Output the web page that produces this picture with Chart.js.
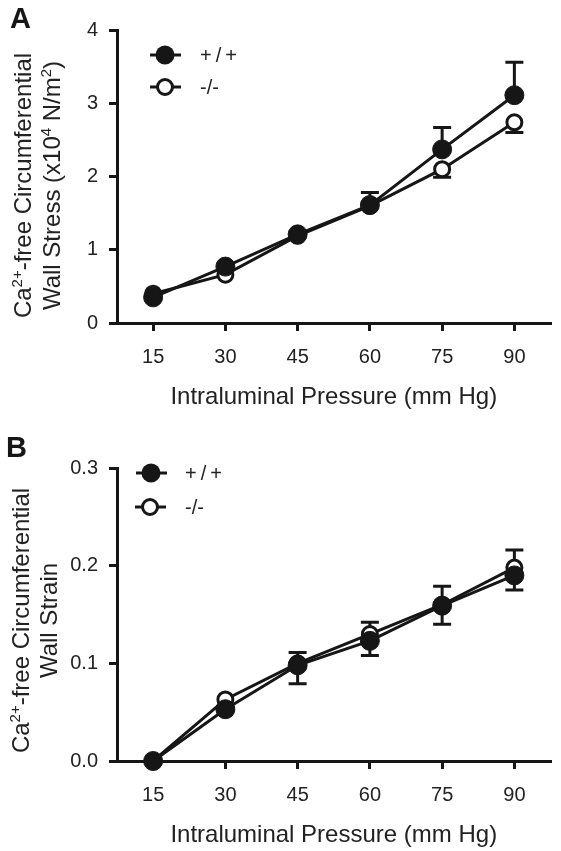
<!DOCTYPE html>
<html>
<head>
<meta charset="utf-8">
<script src="https://cdn.jsdelivr.net/npm/chart.js@4.4.1/dist/chart.umd.min.js"></script>
<style>
  html, body { margin: 0; padding: 0; background: #fff; }
  #wrap { position: relative; width: 561px; height: 851px; }
  canvas { position: absolute; left: 0; }
  .panel { position: absolute; font: bold 29px "Liberation Sans", Arial, sans-serif; line-height: 1; color: #161616; }
</style>
</head>
<body>
<div id="wrap">
  <canvas id="chartA" width="561" height="420" style="top:0"></canvas>
  <canvas id="chartB" width="561" height="431" style="top:420px"></canvas>
  <div class="panel" style="left:10px; top:4px">A</div>
  <div class="panel" style="left:6px; top:433px">B</div>
</div>
<script>
const pressure = [15, 30, 45, 60, 75, 90];
const xTicks = [15, 30, 45, 60, 75, 90];

// Panel A: Ca-free circumferential wall stress (x10^4 N/m2)
const stressWT = [0.35, 0.77, 1.21, 1.61, 2.37, 3.11];
const stressWTErr = [0, 0, 0, 0.17, 0.30, 0.45];
const stressKO = [0.40, 0.66, 1.19, 1.60, 2.10, 2.74];
const stressKOErr = [0, 0, 0, 0, 0.11, 0.14];
const stressTicks = [0, 1, 2, 3, 4];

// Panel B: Ca-free circumferential wall strain
const strainWT = [0, 0.053, 0.098, 0.123, 0.159, 0.190];
const strainWTErr = [0, 0, 0.013, 0.019, 0.020, 0.026];
const strainKO = [0, 0.063, 0.100, 0.130, 0.160, 0.198];
const strainKOErr = [0, 0, 0.021, 0.022, 0.020, 0.023];
const strainTicks = [0, 0.1, 0.2, 0.3];

const INK = '#161616';
const TEXT = '#222222';
const FAMILY = '"Liberation Sans", Arial, sans-serif';

function points(vals) {
  return pressure.map((p, i) => ({ x: p, y: vals[i] }));
}

function drawRich(ctx, segs, x, y, size) {
  segs.forEach((s) => {
    const fs = s.sup ? Math.round(size * 0.62) : size;
    ctx.font = fs + 'px ' + FAMILY;
    ctx.fillText(s.t, x, s.sup ? y - size * 0.38 : y);
    x += ctx.measureText(s.t).width;
  });
}

function richWidth(ctx, segs, size) {
  let w = 0;
  segs.forEach((s) => {
    const fs = s.sup ? Math.round(size * 0.62) : size;
    ctx.font = fs + 'px ' + FAMILY;
    w += ctx.measureText(s.t).width;
  });
  return w;
}

// one-sided error bars: +/+ upward, -/- downward
const errorBars = {
  id: 'errorBars',
  beforeDatasetsDraw(chart) {
    const ctx = chart.ctx;
    const y = chart.scales.y;
    chart.data.datasets.forEach((ds, i) => {
      const meta = chart.getDatasetMeta(i);
      ctx.save();
      ctx.strokeStyle = INK;
      ctx.lineWidth = 3;
      meta.data.forEach((pt, j) => {
        const e = ds.err[j];
        if (!e) return;
        const end = y.getPixelForValue(ds.data[j].y + ds.errDir * e);
        ctx.beginPath();
        ctx.moveTo(pt.x, pt.y);
        ctx.lineTo(pt.x, end);
        ctx.moveTo(pt.x - 9, end);
        ctx.lineTo(pt.x + 9, end);
        ctx.stroke();
      });
      ctx.restore();
    });
  }
};

// axis titles and legend
const decor = {
  id: 'decor',
  afterDraw(chart, args, opts) {
    const ctx = chart.ctx;
    const area = chart.chartArea;
    ctx.save();
    ctx.fillStyle = TEXT;
    ctx.textBaseline = 'middle';
    ctx.textAlign = 'center';
    ctx.font = '24px ' + FAMILY;
    ctx.fillText('Intraluminal Pressure (mm Hg)', (area.left + area.right) / 2, area.bottom + opts.xTitleGap);

    ctx.textAlign = 'left';
    ctx.textBaseline = 'alphabetic';
    opts.yTitle.forEach((segs, k) => {
      const w = richWidth(ctx, segs, 24);
      ctx.save();
      ctx.translate(opts.yTitleX[k], (area.top + area.bottom) / 2 + opts.yTitleShift);
      ctx.rotate(-Math.PI / 2);
      drawRich(ctx, segs, -w / 2, 0, 24);
      ctx.restore();
    });

    opts.legend.forEach((it) => {
      ctx.strokeStyle = INK;
      ctx.lineWidth = 3;
      ctx.beginPath();
      ctx.moveTo(it.x - 15, it.y);
      ctx.lineTo(it.x + 16, it.y);
      ctx.stroke();
      ctx.beginPath();
      if (it.filled) {
        ctx.arc(it.x, it.y, 9.5, 0, Math.PI * 2);
        ctx.fillStyle = INK;
        ctx.fill();
      } else {
        ctx.arc(it.x, it.y, 7.5, 0, Math.PI * 2);
        ctx.fillStyle = '#fff';
        ctx.fill();
        ctx.stroke();
      }
      ctx.fillStyle = TEXT;
      ctx.font = '20px ' + FAMILY;
      ctx.textBaseline = 'middle';
      ctx.letterSpacing = it.spacing || '0px';
      ctx.fillText(it.label, it.tx, it.y + 1);
      ctx.letterSpacing = '0px';
      ctx.textBaseline = 'alphabetic';
    });
    ctx.restore();
  }
};

function makeChart(id, cfg) {
  return new Chart(document.getElementById(id), {
    type: 'line',
    data: {
      datasets: [
        {
          label: '+/+',
          data: points(cfg.wt),
          err: cfg.wtErr,
          errDir: 1,
          borderColor: INK,
          borderWidth: 3,
          pointRadius: 9.5,
          pointBorderWidth: 1,
          pointBackgroundColor: INK,
          pointBorderColor: INK,
          clip: false
        },
        {
          label: '-/-',
          data: points(cfg.ko),
          err: cfg.koErr,
          errDir: -1,
          borderColor: INK,
          borderWidth: 3,
          pointRadius: 7.5,
          pointBorderWidth: 3,
          pointBackgroundColor: '#ffffff',
          pointBorderColor: INK,
          clip: false
        }
      ]
    },
    options: {
      responsive: false,
      animation: false,
      layout: { padding: { left: 0, right: 4, top: cfg.top, bottom: 0 } },
      scales: {
        x: {
          type: 'linear',
          min: 7.5,
          max: 97.5,
          afterBuildTicks: (s) => { s.ticks = xTicks.map((v) => ({ value: v })); },
          afterFit: (s) => { s.height = cfg.xHeight; },
          grid: { drawOnChartArea: false, tickLength: 8, lineWidth: 3, color: INK },
          border: { width: 3, color: INK },
          ticks: { color: TEXT, font: { size: 20, family: FAMILY }, padding: 14, maxRotation: 0 }
        },
        y: {
          min: 0,
          max: cfg.yTicks[cfg.yTicks.length - 1],
          afterBuildTicks: (s) => { s.ticks = cfg.yTicks.map((v) => ({ value: v })); },
          afterFit: (s) => { s.width = 117; },
          grid: { drawOnChartArea: false, tickLength: 8, lineWidth: 3, color: INK },
          border: { width: 3, color: INK },
          ticks: { color: TEXT, font: { size: 20, family: FAMILY }, padding: 11, callback: cfg.fmt }
        }
      },
      plugins: {
        legend: { display: false },
        tooltip: { enabled: false },
        decor: {
          xTitleGap: 74,
          yTitle: cfg.yTitle,
          yTitleX: cfg.yTitleX,
          yTitleShift: cfg.yTitleShift,
          legend: cfg.legend
        }
      }
    },
    plugins: [errorBars, decor]
  });
}

makeChart('chartA', {
  wt: stressWT, wtErr: stressWTErr, ko: stressKO, koErr: stressKOErr,
  yTicks: stressTicks,
  fmt: (v) => String(v),
  top: 30,
  xHeight: 97,
  yTitle: [
    [{ t: 'Ca' }, { t: '2+', sup: true }, { t: '-free Circumferential' }],
    [{ t: 'Wall Stress (x10' }, { t: '4', sup: true }, { t: ' N/m' }, { t: '2', sup: true }, { t: ')' }]
  ],
  yTitleX: [31, 60],
  yTitleShift: 9,
  legend: [
    { x: 165, y: 55, filled: true, label: '+/+', tx: 200, spacing: '4px' },
    { x: 165, y: 87, filled: false, label: '-/-', tx: 200 }
  ]
});

makeChart('chartB', {
  wt: strainWT, wtErr: strainWTErr, ko: strainKO, koErr: strainKOErr,
  yTicks: strainTicks,
  fmt: (v) => v.toFixed(1),
  top: 48,
  xHeight: 90,
  yTitle: [
    [{ t: 'Ca' }, { t: '2+', sup: true }, { t: '-free Circumferential' }],
    [{ t: 'Wall Strain' }]
  ],
  yTitleX: [29, 57],
  yTitleShift: 6,
  legend: [
    { x: 151, y: 53, filled: true, label: '+/+', tx: 185, spacing: '4px' },
    { x: 150, y: 87, filled: false, label: '-/-', tx: 185 }
  ]
});
</script>
</body>
</html>
